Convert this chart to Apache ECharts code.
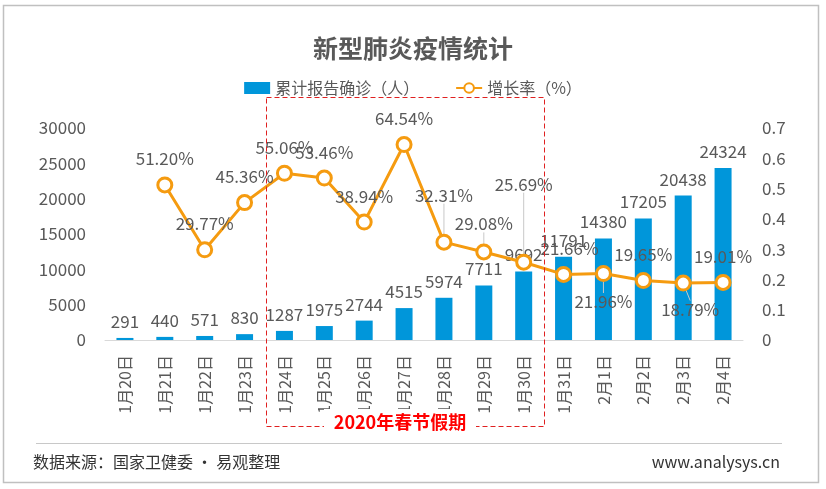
<!DOCTYPE html>
<html>
<head>
<meta charset="utf-8">
<title>新型肺炎疫情统计</title>
<script src="https://cdn.jsdelivr.net/npm/echarts@6/dist/echarts.min.js"></script>
<style>
  html, body { margin: 0; padding: 0; background: #fff; }
  #chart { width: 826px; height: 489px; }
</style>
</head>
<body>
<div id="chart"></div>
<script>
// 日期
var days = ['1月20日', '1月21日', '1月22日', '1月23日', '1月24日', '1月25日', '1月26日', '1月27日',
  '1月28日', '1月29日', '1月30日', '1月31日', '2月1日', '2月2日', '2月3日', '2月4日']
// 累计报告确诊（人）
var confirmed = [291, 440, 571, 830, 1287, 1975, 2744, 4515, 5974, 7711, 9692, 11791, 14380, 17205, 20438, 24324]
// 增长率，1月20日没有
var growth = [null, 0.512, 0.2977, 0.4536, 0.5506, 0.5346, 0.3894, 0.6454, 0.3231, 0.2908, 0.2569,
  0.2166, 0.2196, 0.1965, 0.1879, 0.1901]
var leftTicks = [0, 30000, 5000]
var rightTicks = [0, 0.7, 0.1]

var font = 'Noto Sans CJK SC'
var gray = '#595959'
var blue = '#0096DA'
var orange = '#F59B10'

// 增长率标签：下方显示的点
var below = [12, 14]
// 标签挪动（带引线）
var moved = { 8: [0, -21], 9: [0, -2], 10: [0, -52], 11: [6, 0], 12: [0, 2], 14: [7, 0] }

var rateData = growth.map(function(v, i) {
  if (v === null) return '-'
  var item = { value: v }
  if (below.indexOf(i) >= 0) item.label = { position: 'bottom' }
  if (moved[i] && i !== 11) item.labelLine = { show: true }
  return item
})

var chart = echarts.init(document.getElementById('chart'))
chart.setOption({
  animation: false,
  textStyle: { fontFamily: font },
  title: {
    text: '新型肺炎疫情统计',
    left: 'center',
    top: 31,
    textStyle: { fontSize: 25, fontWeight: 'bold', color: gray, fontFamily: font }
  },
  legend: {
    top: 75,
    left: 'center',
    itemGap: 36,
    itemWidth: 26,
    itemHeight: 12,
    textStyle: { fontSize: 16, color: gray, fontFamily: font },
    data: [
      { name: '累计报告确诊（人）', icon: 'rect' },
      { name: '增长率（%）' }
    ]
  },
  grid: { left: 105, right: 83, top: 128, bottom: 149 },
  xAxis: {
    type: 'category',
    data: days,
    axisLine: { lineStyle: { color: '#d9d9d9' } },
    axisTick: { length: 5, lineStyle: { color: '#d9d9d9' } },
    axisLabel: { rotate: 90, fontSize: 16, color: gray, margin: 15, interval: 0 }
  },
  yAxis: [
    {
      type: 'value',
      min: leftTicks[0], max: leftTicks[1], interval: leftTicks[2],
      splitLine: { show: false },
      axisLabel: { fontSize: 17, color: gray, margin: 19, formatter: function(v) { return String(v) } }
    },
    {
      type: 'value',
      min: rightTicks[0], max: rightTicks[1], interval: rightTicks[2],
      splitLine: { show: false },
      axisLabel: { fontSize: 17, color: gray, margin: 19 }
    }
  ],
  series: [
    {
      name: '累计报告确诊（人）',
      type: 'bar',
      data: confirmed,
      barWidth: 17,
      itemStyle: { color: blue },
      label: { show: true, position: 'top', distance: 8, fontSize: 17, color: gray }
    },
    {
      name: '增长率（%）',
      type: 'line',
      yAxisIndex: 1,
      data: rateData,
      connectNulls: true,
      symbol: 'circle',
      symbolSize: 14,
      lineStyle: { color: orange, width: 3 },
      itemStyle: { color: '#fff', borderColor: orange, borderWidth: 3 },
      label: {
        show: true,
        position: 'top',
        distance: 9,
        fontSize: 17,
        color: gray,
        formatter: function(p) { return (p.value * 100).toFixed(2) + '%' }
      },
      labelLine: { show: false, lineStyle: { color: '#c8c8c8', width: 1 } },
      labelLayout: function(p) {
        var m = moved[p.dataIndex]
        if (!m) return {}
        return { dx: m[0], dy: m[1] }
      },
      z: 3
    }
  ],
  graphic: [
    // 外框
    { type: 'rect', z: 100, shape: { x: 3.5, y: 5.5, width: 815, height: 477 },
      style: { fill: 'none', stroke: '#c0c0c0', lineWidth: 1.5 } },
    // 春节假期虚线框
    { type: 'rect', z: 100, shape: { x: 266.5, y: 97.5, width: 278, height: 329 },
      style: { fill: 'none', stroke: '#e02020', lineWidth: 1, lineDash: [5, 3] } },
    { type: 'rect', z: 101, shape: { x: 324, y: 409, width: 152, height: 26 },
      style: { fill: '#fff' } },
    { type: 'text', z: 102, x: 400, y: 422,
      style: { text: '2020年春节假期', fill: '#ff0000', font: 'bold 18px "Noto Sans CJK SC"',
        textAlign: 'center', textVerticalAlign: 'middle' } },
    // 底部分隔线
    { type: 'line', z: 100, shape: { x1: 36, y1: 443.5, x2: 782, y2: 443.5 },
      style: { stroke: '#c8c8c8', lineWidth: 1 } },
    { type: 'text', z: 100, x: 33, y: 462,
      style: { text: '数据来源：国家卫健委 · 易观整理', fill: '#333', font: '16px "Noto Sans CJK SC"',
        textAlign: 'left', textVerticalAlign: 'middle' } },
    { type: 'text', z: 100, x: 780, y: 462,
      style: { text: 'www.analysys.cn', fill: '#333', font: '16px "Noto Sans CJK SC"',
        textAlign: 'right', textVerticalAlign: 'middle' } }
  ]
})
</script>
</body>
</html>
